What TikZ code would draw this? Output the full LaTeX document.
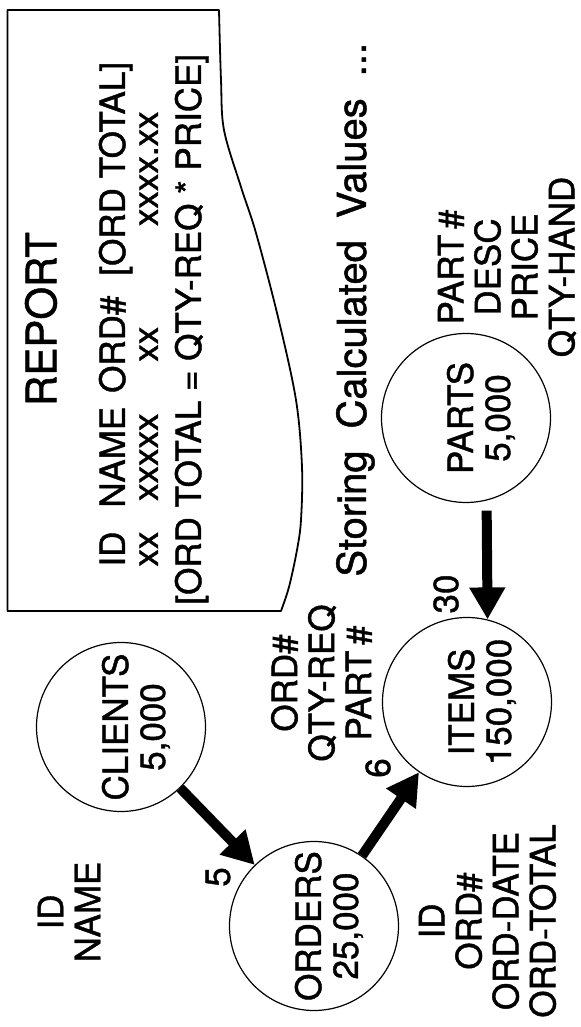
\documentclass[tikz,border=0pt]{standalone}
\usepackage{fontspec}
\setmainfont[FakeBold=1.2,AutoFakeBold=1.2]{TeX Gyre Heros}
\usetikzlibrary{arrows.meta}
\tikzset{
  entity/.style={circle,draw,line width=0.6pt,minimum size=84.5pt,inner sep=0pt},
  entitytext/.style={align=center,inner sep=0pt,yshift=-7.5pt,font=\fontsize{17.5}{18.5}\selectfont\bfseries},
  attr/.style={align=center,inner sep=0pt,font=\fontsize{17.5}{18.5}\selectfont\bfseries},
  card/.style={inner sep=0pt,font=\fontsize{17.5}{18.5}\selectfont\bfseries},
  txt/.style={inner sep=0pt,anchor=base west,font=\fontsize{17.5}{18.5}\selectfont\bfseries},
  rel/.style={-{Triangle[length=16pt,width=17pt]},line width=5pt},
}
\begin{document}
\begin{tikzpicture}[x=0.5pt,y=0.5pt,rotate=90,transform shape]
  \useasboundingbox (0,0) rectangle (1027,581);
  % report sheet, torn along its lower side
  \draw[line width=0.9pt,line join=round] (416,573.5) -- (1017,573.5)
    -- plot[smooth,tension=0.55] coordinates {(1017,362) (947,360) (897,357) (840,340) (794,325) (710,303) (627,285) (560,279) (507,280) (477,284) (440,292) (416,300)}
    -- cycle;
  \node[inner sep=0pt,font=\fontsize{21}{24}\selectfont\bfseries] (title) at (708,540) {REPORT};
  \node[txt] (cols) at (460,456) {\begin{tabular}[t]{@{}c@{\hspace{12pt}}c@{\hspace{7pt}}c@{\hspace{10pt}}c@{}}
    ID & NAME & ORD\# & [ORD TOTAL]\\[-2pt]
    xx & xxxxx & xx & xxxx.xx
  \end{tabular}};
  \node[txt] (formula) at (422,380) {[ORD TOTAL = QTY-REQ * PRICE]};
  \node[txt,font=\fontsize{20}{24}\selectfont\bfseries] (caption) at (450,215) {Storing\hspace{11pt}Calculated\hspace{11pt}Values\hspace{11pt}...};

  % entities
  \node[entity,label={[entitytext]center:{CLIENTS\\5,000}}] (clients) at (300,460) {};
  \node[entity,label={[entitytext]center:{ORDERS\\25,000}}] (orders) at (101,267) {};
  \node[entity,label={[entitytext]center:{ITEMS\\150,000}}] (items) at (325,114) {};
  \node[entity,label={[entitytext]center:{PARTS\\5,000}}] (parts) at (609,115) {};

  % attribute lists
  \node[attr] (clients-attr) at (115,512) {ID\\NAME};
  \node[attr] (orders-attr) at (106,93.5) {ID\\ORD\#\\ORD-DATE\\ORD-TOTAL};
  \node[attr] (items-attr) at (344,259.5) {ORD\#\\QTY-REQ\\PART\,\#};
  \node[attr] (parts-attr) at (760,74) {PART\,\#\\DESC\\PRICE\\QTY-HAND};

  % cardinalities
  \node[card] (card-co) at (150,363) {5};
  \node[card] (card-oi) at (259,203) {6};
  \node[card] (card-pi) at (433,135) {30};

  % relations
  \draw[rel] (clients) -- (orders);
  \draw[rel] (orders) -- (items);
  \draw[rel,shorten <=5pt] (parts.194) -- (items.-14);
\end{tikzpicture}
\end{document}
